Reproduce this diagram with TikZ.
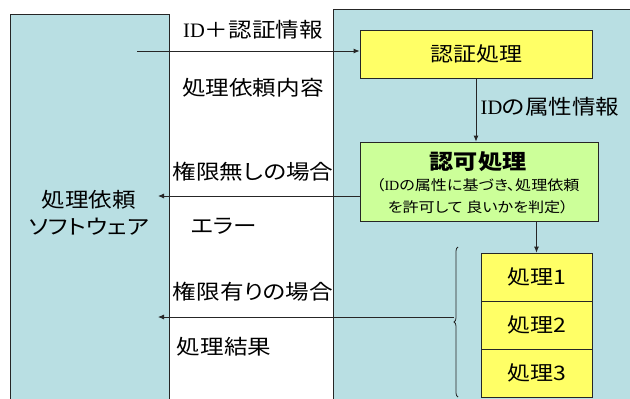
\documentclass[tikz,border=0pt]{standalone}
\usepackage{fontspec}
\setmainfont{Noto Sans CJK JP}[FakeStretch=1.15,RawFeature=+palt]
\newfontfamily\idfont{Liberation Serif}
\newcommand{\ID}{{\idfont ID}}
\usetikzlibrary{arrows.meta,positioning,decorations.pathreplacing}
\definecolor{panelblue}{RGB}{185,223,227}
\definecolor{procyellow}{RGB}{255,255,102}
\definecolor{permgreen}{RGB}{204,255,153}
\tikzset{>={Latex[length=6pt,width=5pt]},
    thin line/.style={draw=black!85,line width=0.8pt},
    procbox/.style={thin line,fill=procyellow,inner sep=0pt,
        font=\fontsize{20}{22}\selectfont},
    permbox/.style={procbox,fill=permgreen},
    msg/.style={inner sep=0pt,font=\fontsize{20.5}{22}\selectfont},
    note/.style={inner sep=0pt,font=\fontsize{14}{16}\selectfont},
    flow/.style={->,thin line}}

\begin{document}
\begin{tikzpicture}[x=1pt,y=-1pt]
\useasboundingbox (0,0) rectangle (630,399);

% the two sides
\fill[panelblue] (10,14) rectangle (169,399);
\draw[thin line] (10,399) |- (169,14) -- (169,399);
\fill[panelblue] (333,9) rectangle (630,399);
\draw[thin line] (333,399) |- (630,9);

\node[msg,align=center,font=\fontsize{20.5}{27}\selectfont] (client) at (89,213) {処理依頼\\ソフトウェア};

% server side
\node[procbox,minimum width=232,minimum height=48] (auth)  at (476,54)    {認証処理};
\node[permbox,minimum width=238,minimum height=79] (authz) at (479,181.5) {};
\node[msg,font=\fontsize{21}{22}\selectfont\bfseries] (authzt) at (478,162) {認可処理};
\node[note] (authzn1) at (478,185) {（\ID の属性に基づき、処理依頼};
\node[note] (authzn2) at (478,207) {を許可して 良いかを判定）};

\node[procbox,minimum width=111,minimum height=48] (p1) at (536.5,277) {処理1};
\node[procbox,minimum width=111,minimum height=48] (p2) at (536.5,325) {処理2};
\node[procbox,minimum width=111,minimum height=48] (p3) at (536.5,373) {処理3};

% messages
\node[msg] (m1) at (253,30)  {\ID＋認証情報};
\node[msg] (m2) at (253,88)  {処理依頼内容};
\node[msg] (m3) at (253,172) {権限無しの場合};
\node[msg] (m4) at (224,226) {エラー};
\node[msg] (m5) at (253,292) {権限有りの場合};
\node[msg] (m6) at (224,347) {処理結果};
\node[msg] (m7) at (550,107) {\ID の属性情報};

\coordinate (req)  at (137,51);
\coordinate (deny) at (158,196);
\coordinate (res)  at (158,317);
\coordinate (tip)  at (454,317);

\draw[flow] (req) -- (req -| auth.west);
\draw[flow] (auth.south) -- (auth.south |- authz.north);
\draw[flow] (authz.west |- deny) -- (deny);
\draw[flow] (p1.north |- authz.south) -- (p1.north);
\draw[thin line,decorate,decoration={brace,amplitude=4pt}] (458,397) -- (458,247);
\draw[flow] (tip) -- (res);
\end{tikzpicture}
\end{document}
